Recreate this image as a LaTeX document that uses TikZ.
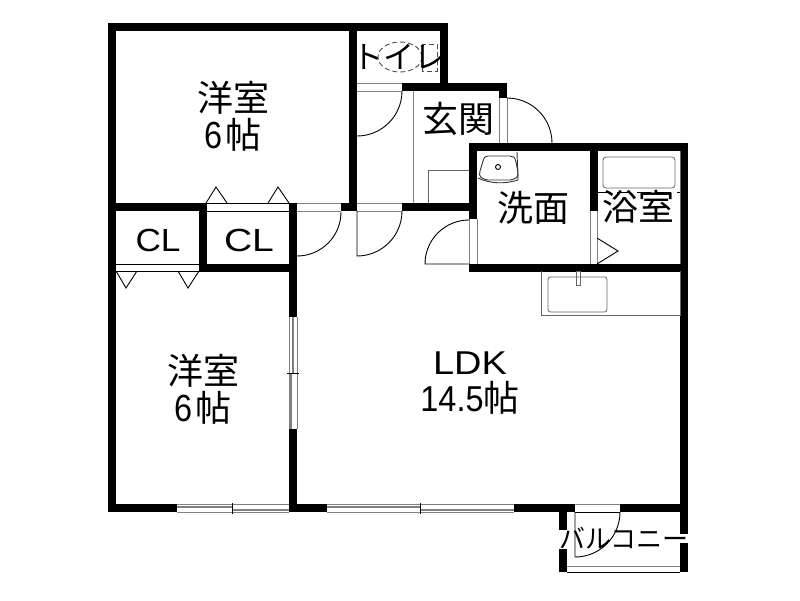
\documentclass[tikz,border=0pt]{standalone}
\usepackage{fontspec}
\setmainfont{Liberation Sans}
\newfontfamily\cjk{Noto Sans CJK JP}
\newcommand{\jou}{{\cjk 帖}}
\tikzset{
  wall/.style={line width=8pt},
  thin line/.style={line width=0.9pt},
  grey line/.style={line width=0.9pt,gray},
  fixture/.style={line width=0.8pt,gray!80!black},
  glass/.style={line width=2pt,gray},
  label/.style={inner sep=0pt,align=center,font=\fontsize{36}{37}\selectfont},
}
\begin{document}
\begin{tikzpicture}[x=1pt,y=-1pt]
\useasboundingbox (0,0) rectangle (800,600);
\fill[white] (0,0) rectangle (800,600);
% outer and inner walls
\draw[wall] (353,211) -- (353,27) -- (112,27) -- (112,512);
\draw[wall] (349,27) -- (443.5,27) -- (443.5,91);
\draw[wall] (402,87) -- (503,87) -- (503,98);
\draw[wall] (469,147) -- (688,147);
\draw[wall] (473,143) -- (473,219);
\draw[wall] (473,264) -- (473,271);
\draw[wall] (469,267.5) -- (688,267.5);
\draw[wall] (684,143) -- (684,534) (684,543) -- (684,572);
\draw[wall] (593.5,147) -- (593.5,211);
\draw[wall] (108,207) -- (207,207);
\draw[wall] (203,207) -- (203,271);
\draw[wall] (199,267.5) -- (297,267.5);
\draw[wall] (293,203) -- (293,317);
\draw[wall] (293,429) -- (293,512);
\draw[wall] (341,207) -- (357,207);
\draw[wall] (402,207) -- (477,207);
\draw[wall] (108,508) -- (177,508);
\draw[wall] (289,508) -- (327,508);
\draw[wall] (514,508) -- (575,508);
\draw[wall] (620,508) -- (688,508);
\draw[wall] (563,512) -- (563,530) (563,549) -- (563,572);
% door openings
\foreach \xa/\xb in {357/402,297/341} \draw[grey line] (\xa,203) -- (\xb,203) (\xa,211) -- (\xb,211);
\draw[grey line] (357,83) -- (402,83) (357,91) -- (402,91);
\draw[grey line] (499,98) -- (499,143) (507,98) -- (507,143);
\draw[grey line] (469,219) -- (469,264) (477,219) -- (477,264);
\draw[grey line] (590,211) -- (590,264) (597,211) -- (597,264);
\draw[grey line] (575,504) -- (620,504);
\draw[thin line] (575,512) -- (620,512);
% door leaves
\draw[thin line] (357,136) arc (90:0:45);
\draw[thin line] (507,98) arc (-90:0:45);
\draw[thin line] (297,256) arc (90:0:44);
\draw[thin line] (357,211) -- (357,256) arc (90:0:45);
\draw[thin line] (469,264) -- (425,264) arc (180:270:44);
\draw[thin line] (575,512) -- (575,557) arc (90:0:45);
\draw[thin line] (597,238) -- (618,251) -- (597,264);
% closets
\draw[thin line] (207,203) -- (289,203) (207,211) -- (289,211);
\draw[thin line] (116,264) -- (199,264) (116,271) -- (199,271);
\draw[thin line] (206,203) -- (216,187) -- (227,203);
\draw[thin line] (268,203) -- (278,187) -- (289,203);
\draw[thin line] (116,271) -- (126,288) -- (137,271);
\draw[thin line] (178,271) -- (188,288) -- (199,271);
% sliding windows
\draw[grey line] (289,317) -- (289,429) (297,317) -- (297,429);
\draw[glass] (293,317) -- (293,373);
\draw[glass] (291,373) -- (291,429);
\draw[thin line] (287,373) -- (299,373);
\draw[grey line] (177,504) -- (289,504) (177,512) -- (289,512);
\draw[glass] (177,507) -- (233,507);
\draw[glass] (233,510) -- (289,510);
\draw[thin line] (232.5,503) -- (232.5,514);
\draw[grey line] (327,504) -- (514,504) (327,512) -- (514,512);
\draw[glass] (327,507) -- (421,507);
\draw[glass] (421,510) -- (514,510);
\draw[thin line] (420.5,503) -- (420.5,514);
\draw[grey line] (567,566) -- (680,566);
\draw[thin line] (567,572) -- (680,572);
% entrance
\draw[grey line] (413,91) -- (413,203);
\draw[fixture] (428,203) -- (428,170) -- (469,170);
% toilet
\draw[thin line,gray!60!black,dash pattern=on 5pt off 3pt] (400,57) ellipse (22 and 15);
\draw[thin line,gray!60!black,dash pattern=on 5pt off 3pt] (422,44) rectangle (437,71);
% basin
\draw[thin line,gray!40!black] (478,178) .. controls (490,184) and (506,184) .. (518,180) -- (517,152);
\draw[thin line,gray!40!black] (488,156) -- (510,156) .. controls (513,156) and (515,157) .. (516,162) -- (518,172) .. controls (519,178) and (515,179) .. (510,180) -- (488,180) .. controls (482,179) and (478,177) .. (480,171) -- (483,161) .. controls (484,157) and (486,156) .. (488,156);
\draw[thin line] (498,167) circle (2.5);
% bath
\draw[fixture,rounded corners=3pt] (603,157) rectangle (675,188);
\draw[thin line,dash pattern=on 14pt off 6pt] (597,192) -- (680,192);
\draw[fixture] (680,151) -- (680,264);
% kitchen
\draw[fixture] (541,271) -- (541,315) -- (680,315) -- (680,271);
\draw[fixture,rounded corners=2.5pt] (548,277) rectangle (607,312);
\draw[fixture] (576,271) rectangle (580,285);
% labels
\node[label] (roomA) at (233,116) {{\cjk 洋室}\\\scalebox{.9}[1.05]{6}\kern2pt\jou};
\node[label] (roomB) at (203,389) {{\cjk 洋室}\\\scalebox{.9}[1.05]{6}\kern2pt\jou};
\node[label] (ldk) at (470,383) {\scalebox{1.15}[1]{\fontsize{33}{33}\selectfont LDK}\\\scalebox{.9}[1]{14.5}\jou};
\node[label,font=\cjk\fontsize{36}{37}\selectfont] (entry) at (458,119) {玄関};
\node[label,font=\cjk\fontsize{36}{37}\selectfont] (wash) at (533,208) {洗面};
\node[label,font=\cjk\fontsize{36}{37}\selectfont] (bath) at (638,207) {浴室};
\node[label,font=\fontsize{32}{33}\selectfont] (clA) at (158,240) {\scalebox{1.1}[1]{CL}};
\node[label,font=\fontsize{32}{33}\selectfont] (clB) at (249,240) {\scalebox{1.22}[1]{CL}};
\node[label,font=\cjk\fontsize{31}{32}\selectfont] (toilet) at (399,57) {トイレ};
\node[label,font=\cjk\fontsize{26}{28}\selectfont] (balcony) at (624,538) {バルコニー};
\end{tikzpicture}
\end{document}
